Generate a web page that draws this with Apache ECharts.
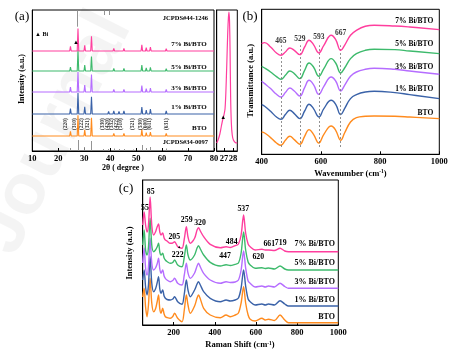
<!DOCTYPE html>
<html><head><meta charset="utf-8">
<script src="https://cdn.jsdelivr.net/npm/echarts@6/dist/echarts.min.js"></script>
<style>html,body{margin:0;padding:0;background:#fff}#c{width:463px;height:355px}</style>
</head><body><div id="c"></div>
<script>
// ---------- DATA ----------
const SAMPLES = ['7% Bi/BTO', '5% Bi/BTO', '3% Bi/BTO', '1% Bi/BTO', 'BTO'];
const COLORS = ['#FF3E9E', '#3DBA6C', '#B56DFF', '#3A62A8', '#FF8B1E'];

// (a) XRD peak positions (2theta) and heights per sample
const XRD_POS = [24.7, 27.6, 30.2, 32.8, 37.4, 39.4, 41.4, 43.4, 45.3, 49.0, 52.2, 53.9, 55.5, 61.6, 64.6, 79.3];
const XRD_H_7 = [4.7, 22.4, 5.7, 14.7, 1.5, 2, 2.5, 2, 2.5, 1, 6.3, 3.3, 4, 2.3, 0.8, 1];
const XRD_H_5 = [4, 20.7, 6, 14.5, 1.5, 2, 2.5, 2, 2.5, 1, 6, 3, 3.7, 2.3, 0.8, 1];
const XRD_H_3 = [5, 20, 7, 17.4, 1.5, 2, 2.5, 2, 2.5, 1, 6.5, 3.3, 4, 2.5, 0.8, 1];
const XRD_H_1 = [5.3, 21.3, 7.3, 17.3, 2, 2.5, 3, 2.5, 3, 1.2, 7, 4, 5, 3, 1, 1];
const XRD_H_0 = [4.7, 20.7, 6.3, 18.3, 1.7, 2, 2.5, 2, 2.5, 1, 6.5, 3.5, 4, 2.5, 0.8, 1];
const XRD_TICKS = [10, 20, 30, 40, 50, 60, 70, 80];
// reference patterns
const BI_REF_POS = [27.2, 37.9, 39.6];
const BI_REF_LEN = [16.7, 5, 5];
const BTO_REF_POS = [24.7, 27.6, 30.2, 32.8, 37.4, 39.4, 41.4, 43.4, 45.3, 49.0, 52.2, 53.9, 55.5, 61.6];
const BTO_REF_LEN = [3, 11, 4, 10, 2, 2, 2.5, 2, 2, 1.5, 6, 3, 4, 2.5];
const HKL = ['(220)', '(310)', '(222)', '(321)', '(330)', '(420)', '(332)', '(422)', '(510)', '(521)', '(530)', '(600)', '(611)', '(631)'];
const HKL_POS = [22.8, 26.3, 28.85, 31.15, 37.0, 38.85, 40.7, 42.5, 44.1, 48.6, 51.9, 53.6, 55.1, 61.6];
// inset (7% Bi/BTO, 26.2-28.5 deg)
const INSET_X = [26.2, 26.35, 26.55, 26.72, 26.88, 27.0, 27.12, 27.22, 27.32, 27.42, 27.5, 27.56, 27.62, 27.68, 27.74, 27.82, 27.92, 28.05, 28.25, 28.48];
const INSET_Y = [8, 11, 17, 25, 32, 36, 42, 60, 88, 118, 134, 139, 130, 100, 55, 28, 16, 11, 8.5, 8];
const INSET_TICKS = [27, 28];

// (b) FTIR
const FTIR_X = [400, 410, 430, 450, 465, 480, 495, 510, 529, 545, 560, 575, 593, 610, 635, 650, 667, 680, 700, 720, 750, 780, 850, 900, 1000];
const FTIR_7 = [110.7, 111.7, 107.3, 101.3, 99, 102.3, 106.3, 104, 99.7, 107.3, 114, 109.7, 101.3, 109, 119, 114.7, 104, 109, 119, 124, 128, 129, 128.3, 127.3, 124.7];
const FTIR_5 = [88, 86.3, 82.3, 77.7, 75, 79, 83.3, 80.7, 75.7, 84, 91.3, 87.3, 78, 85.7, 95.7, 91.3, 81.3, 86.3, 95.7, 100.7, 104, 105, 104.7, 103.3, 100.7];
const FTIR_3 = [73, 70.7, 65.7, 60, 57.3, 61.7, 66.3, 63.3, 58.3, 66.7, 74, 69.7, 60, 68, 77.3, 73.3, 63.3, 69, 78, 82.3, 85, 86, 85, 83.3, 80];
const FTIR_1 = [49.7, 48, 43, 37.3, 35, 39.7, 44, 40.7, 35.7, 43.3, 50, 45.7, 37.3, 45.7, 54, 50, 39.7, 45.7, 55.7, 59.7, 62.3, 63, 61.7, 59.7, 55.7];
const FTIR_0 = [22.3, 21.3, 16.7, 11.3, 9, 14, 18, 14.7, 10, 18, 24.7, 20, 11.3, 20, 28.3, 24, 14, 21.3, 32.3, 36.7, 38, 38.3, 38, 37.3, 35.7];
const FTIR_PEAKS = [465, 529, 593, 667];
const FTIR_TICKS = [400, 600, 800, 1000];

// (c) Raman
const RAMAN_X = [50, 57, 64, 71, 78, 86, 94, 103, 112, 120, 127, 133, 139, 147, 154, 160, 168, 184, 196, 205, 220, 241, 252, 262, 270, 281, 302, 314, 321, 330, 346, 378, 427, 455, 475, 499, 515, 528, 540, 550, 562, 572, 596, 629, 645, 661, 690, 717, 740, 758, 1000];
const RAMAN_7 = [100, 113, 100, 93, 100, 128, 100, 90, 93, 98, 101, 93, 90, 92, 87, 85, 84, 81.7, 82, 83.3, 78.3, 76.7, 86, 98.3, 88, 81.7, 86.7, 95, 97.3, 94, 88.3, 80.7, 77.3, 78.3, 77.5, 79.3, 81, 90, 110, 92, 81, 78.3, 75, 75.7, 75, 75, 74.5, 76.7, 74, 73.3, 73.3];
const RAMAN_5 = [80, 95, 75, 70, 78, 106.7, 80, 73.3, 75, 78, 81.7, 73, 70, 71.7, 67, 65, 63.5, 61.7, 62.5, 65, 60, 58.3, 68, 80, 70, 65, 70, 77, 79.3, 76, 70, 62.7, 59, 60.3, 59.5, 60.7, 62, 72, 93, 75, 63, 60, 56.7, 57.3, 56.5, 57, 56, 59, 56, 55, 55];
const RAMAN_3 = [62, 77, 57, 50, 58, 86.7, 62, 55, 57, 61, 66.7, 56, 51.7, 55, 49, 46.7, 45, 43.3, 44.5, 46.7, 41.7, 40, 50, 61.7, 52, 46.7, 52, 59, 61.7, 58, 51.7, 45, 41.7, 43.3, 42.5, 43, 45, 55, 74, 57, 44, 41.7, 38, 39, 38, 39, 38, 41.7, 38.5, 36.7, 36.7];
const RAMAN_1 = [45, 55, 38, 30, 40, 68.3, 42, 33.3, 36, 42, 48.3, 36, 31.7, 35, 29, 26.7, 25.5, 25, 26, 28.3, 23.3, 20.7, 31, 45, 35, 28.3, 35, 41, 43.3, 40, 33.3, 26.7, 23.3, 25, 24, 25, 27, 37, 55, 39, 26, 23.3, 20, 21, 20, 21, 20, 24.3, 21, 19, 19];
const RAMAN_0 = [28, 36.7, 18, 8.3, 20, 46.7, 22, 13.3, 16, 23, 30, 16, 11.7, 16.7, 11, 8.3, 7.5, 6.7, 8.5, 11.7, 6.7, 3.3, 15, 30, 20, 11.7, 19, 27, 30, 26, 16.7, 10, 7.3, 10, 8.3, 10, 12, 22, 38.3, 22, 10, 5.7, 4, 6.7, 5, 5.7, 4.5, 10, 5, 2.3, 2.3];
const RAMAN_PEAKS = ['55', '85', '205', '222', '259', '320', '447', '484', '537', '620', '661', '719'];
const RAMAN_TICKS = [200, 400, 600, 800, 1000];

// ---------- LAYOUT (positions / styles only) ----------
const FF = "'Liberation Serif', 'Times New Roman', serif";
const XRD_BASE = [100, 80, 59, 37, 15];
const XRD_LABEL_Y = [44, 66.7, 87.7, 107.3, 127.7];
const FTIR_LABEL_Y = [20.7, 44.3, 66.7, 89.3, 112.7];
const RAMAN_LABEL_Y = [244.3, 263.3, 282.3, 300, 316.7];
const FTIR_PEAK_LY = [113.5, 115.2, 117.5, 121];
const RAMAN_PEAK_XY = [[145, 207.7], [150.7, 191.7], [174.3, 237.3], [177.7, 255], [186.7, 220], [200, 223.3], [225, 255.7], [231.7, 241.7], [243.3, 209.3], [258.3, 256.7], [269.3, 244.3], [280.7, 243.3]];

function xrdLine(base, h) {
  const pts = [[10, base]];
  XRD_POS.forEach((p, i) => { pts.push([p - 0.3, base], [p, base + h[i]], [p + 0.3, base]); });
  pts.push([80, base]);
  return pts;
}
function zip(xs, ys) { return xs.map((x, i) => [x, ys[i]]); }

function T(text, x, y, size, opt) {
  opt = opt || {};
  return {
    type: 'text', x: x, y: y, z: 100, rotation: opt.rot || 0, silent: true,
    style: {
      text: text, fill: opt.fill || '#000',
      font: (opt.weight || 'bold') + ' ' + size + 'px ' + FF,
      textAlign: opt.align || 'center', textVerticalAlign: 'middle',
      align: opt.align || 'center', verticalAlign: 'middle',
      rich: opt.rich
    }
  };
}

const plainFmt = v => String(v);
const axisBase = {
  type: 'value',
  axisLine: { show: true, lineStyle: { color: '#000', width: 1 } },
  axisTick: { show: true, inside: true, length: 3, lineStyle: { color: '#000' } },
  axisLabel: { color: '#000', fontFamily: FF, fontWeight: 'bold', fontSize: 8.5, margin: 3, formatter: plainFmt },
  splitLine: { show: false }
};
const yBase = {
  type: 'value', min: 0,
  axisLine: { show: true, lineStyle: { color: '#000' } },
  axisTick: { show: false }, axisLabel: { show: false }, splitLine: { show: false }
};
const gridBase = { show: true, borderColor: '#000', borderWidth: 1, backgroundColor: 'transparent', containLabel: false, outerBoundsMode: 'none' };

const xrdSets = [XRD_H_7, XRD_H_5, XRD_H_3, XRD_H_1, XRD_H_0];
const ftirSets = [FTIR_7, FTIR_5, FTIR_3, FTIR_1, FTIR_0];
const ramanSets = [RAMAN_7, RAMAN_5, RAMAN_3, RAMAN_1, RAMAN_0];

const series = [];
xrdSets.forEach((h, i) => {
  const s = {
    type: 'line', xAxisIndex: 0, yAxisIndex: 0, data: xrdLine(XRD_BASE[i], h),
    showSymbol: false, symbol: 'none', lineStyle: { color: COLORS[i], width: 1.1 }, z: 5 - i, silent: true
  };
  if (i === 4) {
    s.markLine = {
      silent: true, symbol: ['none', 'none'], label: { show: false },
      lineStyle: { color: '#888', width: 0.9, type: 'solid' },
      data: BI_REF_POS.map((p, k) => [{ coord: [p, 141] }, { coord: [p, 141 - BI_REF_LEN[k]] }])
        .concat(BTO_REF_POS.map((p, k) => [{ coord: [p, 0] }, { coord: [p, BTO_REF_LEN[k]] }]))
    };
  }
  series.push(s);
});
series.push({
  type: 'scatter', xAxisIndex: 0, yAxisIndex: 0, symbolSize: 0, silent: true,
  data: HKL_POS.map((p, k) => ({ value: [p, 27], name: HKL[k] })),
  label: { show: true, position: 'inside', rotate: 90, formatter: '{b}', color: '#000', fontFamily: FF, fontWeight: 'bold', fontSize: 5.5 }
});
series.push({
  type: 'line', xAxisIndex: 1, yAxisIndex: 1, data: zip(INSET_X, INSET_Y), smooth: 0.3,
  showSymbol: false, symbol: 'none', lineStyle: { color: COLORS[0], width: 1.2 }, silent: true
});
ftirSets.forEach((d, i) => {
  const s = {
    type: 'line', xAxisIndex: 2, yAxisIndex: 2, data: zip(FTIR_X, d), smooth: 0.45,
    showSymbol: false, symbol: 'none', lineStyle: { color: COLORS[i], width: 1.4 }, z: 5 - i, silent: true
  };
  if (i === 0) {
    s.markLine = {
      silent: true, symbol: ['none', 'none'], label: { show: false },
      lineStyle: { color: '#777', width: 0.8, type: [2, 2] },
      data: FTIR_PEAKS.map(p => [{ coord: [p, 7.3] }, { coord: [p, 109] }])
    };
  }
  series.push(s);
});
series.push({
  type: 'scatter', xAxisIndex: 2, yAxisIndex: 2, symbolSize: 0, silent: true,
  data: FTIR_PEAKS.map((p, k) => ({ value: [p, FTIR_PEAK_LY[k]], name: String(p) })),
  label: { show: true, position: 'inside', formatter: '{b}', color: '#000', fontFamily: FF, fontWeight: 'bold', fontSize: 7.5 }
});
ramanSets.forEach((d, i) => {
  series.push({
    type: 'line', xAxisIndex: 3, yAxisIndex: 3, data: zip(RAMAN_X, d), smooth: 0.3,
    showSymbol: false, symbol: 'none', lineStyle: { color: COLORS[i], width: 1.4 }, z: 5 - i, silent: true
  });
});

const graphics = [
  // watermark
  { type: 'text', x: -4, y: 249, rotation: 1.1, z: 0, silent: true,
    style: { text: 'Journal', fill: 'rgba(0,0,0,0.045)', font: 'bold 72px "Liberation Sans", sans-serif', textAlign: 'left', align: 'left', textVerticalAlign: 'middle', verticalAlign: 'middle' } },
  T('(a)', 22, 16.7, 13, { weight: 'normal' }),
  T('(b)', 250, 16.7, 13, { weight: 'normal' }),
  T('(c)', 126, 188.3, 13, { weight: 'normal' }),
  T('Intensity (a.u.)', 21.7, 79, 8, { rot: Math.PI / 2 }),
  T('Transmittance (a.u.)', 250.7, 80.8, 8.5, { rot: Math.PI / 2 }),
  T('Intensity (a.u.)', 130, 253, 8.5, { rot: Math.PI / 2 }),
  T('2θ ( degree )', 123, 168, 8),
  T('Wavenumber (cm{sup|-1})', 350.5, 173.3, 8.5, { rich: { sup: { fontSize: 5.5, fontWeight: 'bold', fontFamily: FF, verticalAlign: 'top' } } }),
  T('Raman Shift (cm{sup|-1})', 240, 345, 8.5, { rich: { sup: { fontSize: 5.5, fontWeight: 'bold', fontFamily: FF, verticalAlign: 'top' } } }),
  T('JCPDS#44-1246', 208, 18.3, 6.5, { align: 'right' }),
  T('JCPDS#34-0097', 208, 142.7, 6.5, { align: 'right' }),
  T('▲ Bi', 35, 34.3, 6, { align: 'left' }),
  T('▲', 76, 42.3, 6),
  T('▲', 223.3, 117.3, 6),
  T('▲', 179.3, 246.5, 4)
];
SAMPLES.forEach((s, i) => {
  graphics.push(T(s, 206.7, XRD_LABEL_Y[i], 7, { align: 'right' }));
  graphics.push(T(s, 433.3, FTIR_LABEL_Y[i], 7.5, { align: 'right' }));
  graphics.push(T(s, 335, RAMAN_LABEL_Y[i], 8, { align: 'right' }));
});
RAMAN_PEAKS.forEach((p, k) => graphics.push(T(p, RAMAN_PEAK_XY[k][0], RAMAN_PEAK_XY[k][1], 7.8)));

const option = {
  animation: false,
  backgroundColor: '#fff',
  grid: [
    Object.assign({ left: 32.3, top: 10, width: 181.7, height: 141 }, gridBase),
    Object.assign({ left: 216.7, top: 10, width: 20.6, height: 141 }, gridBase),
    Object.assign({ left: 261.7, top: 9.3, width: 177.6, height: 145 }, gridBase),
    Object.assign({ left: 142.7, top: 180, width: 195.6, height: 145 }, gridBase)
  ],
  xAxis: [
    Object.assign({}, axisBase, { gridIndex: 0, min: XRD_TICKS[0], max: XRD_TICKS[XRD_TICKS.length - 1], interval: 10 }),
    Object.assign({}, axisBase, { gridIndex: 1, min: 26.2, max: 28.48,
      axisLabel: Object.assign({}, axisBase.axisLabel, { customValues: INSET_TICKS }),
      axisTick: Object.assign({}, axisBase.axisTick, { customValues: INSET_TICKS }) }),
    Object.assign({}, axisBase, { gridIndex: 2, min: FTIR_TICKS[0], max: FTIR_TICKS[FTIR_TICKS.length - 1], interval: 200 }),
    Object.assign({}, axisBase, { gridIndex: 3, min: 50, max: 1000,
      axisLabel: Object.assign({}, axisBase.axisLabel, { customValues: RAMAN_TICKS }),
      axisTick: Object.assign({}, axisBase.axisTick, { customValues: RAMAN_TICKS }) })
  ],
  yAxis: [
    Object.assign({}, yBase, { gridIndex: 0, max: 141 }),
    Object.assign({}, yBase, { gridIndex: 1, max: 141 }),
    Object.assign({}, yBase, { gridIndex: 2, max: 145 }),
    Object.assign({}, yBase, { gridIndex: 3, max: 145 })
  ],
  series: series,
  graphic: { elements: graphics }
};
const chart = echarts.init(document.getElementById('c'), null, { renderer: 'canvas' });
chart.setOption(option);
</script></body></html>
